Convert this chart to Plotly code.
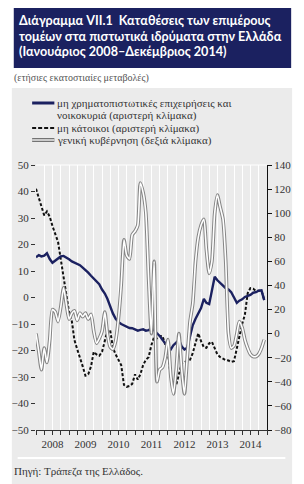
import pandas as pd
import plotly.graph_objects as go

months = pd.date_range("2008-01-01", periods=84, freq="MS")

# μη χρηματοπιστωτικές επιχειρήσεις και νοικοκυριά (left axis)
nfc_households = [15.2, 16.0, 15.5, 15.8, 16.7, 14.5, 13.1, 14.0, 14.8, 15.5, 15.7, 15.2,
                  14.4, 13.6, 13.1, 12.6, 12.2, 11.3, 10.5, 9.4, 8.2, 7.2, 6.2, 5.0,
                  3.0, 1.5, -0.5, -3.5, -6.0, -8.0, -9.2, -10.0, -10.6, -11.0, -11.5, -11.6,
                  -12.2, -12.5, -12.2, -12.0, -12.5, -12.3, -11.5, -12.3, -13.5, -14.5, -16.0, -17.5,
                  -18.6, -19.6, -18.0, -17.0, -16.0, -18.5, -19.6, -19.0, -14.0, -10.5, -8.0, -6.0,
                  -4.0, -0.5, -2.0, -2.5, 3.0, 7.8, 6.5, 5.4, 4.3, 3.5, 3.0, 2.0,
                  0.0, -2.0, -1.2, -0.7, 0.2, 0.5, 1.0, 1.8, 2.0, 2.6, 2.7, -1.0]

# μη κάτοικοι (left axis)
non_residents = [41.0, 37.5, 34.0, 31.0, 32.5, 30.5, 27.0, 23.8, 21.0, 14.5, 7.5, 1.5,
                 -5.5, -9.0, -16.0, -19.5, -22.5, -26.0, -29.5, -29.0, -26.0, -20.5, -21.5, -22.0,
                 -20.5, -16.0, -12.5, -12.3, -19.0, -21.5, -23.6, -25.5, -33.0, -33.7, -33.4, -32.6,
                 -29.0, -31.0, -29.0, -25.5, -23.5, -22.5, -18.0, -14.8, -15.4, -14.5, -14.5, -17.5,
                 -21.0, -30.0, -33.7, -33.0, -29.0, -24.8, -24.4, -24.0, -23.5, -21.0, -17.3, -13.5,
                 -16.5, -18.8, -19.0, -17.3, -16.7, -19.5, -21.5, -22.5, -23.2, -23.6, -23.8, -24.3,
                 -24.0, -19.0, -14.0, -10.0, -6.5, 1.6, 3.5, 3.3, 2.5, 2.5, 2.6, -0.8]

# γενική κυβέρνηση (right axis)
general_government = [0, -15, -30, -12, -24, -5, 20, 18, 10, 22, 38, 25,
                      12, 17, 19, 11, 17, 14, 17, 12, 16, 2, -8, -4,
                      2, 18, 0, -11, -13, -6, 12, 40, 78, 65, 62, 82,
                      85, 90, 125, 117, 100, 45, 0, 60, -40, -30, -28, -20,
                      -5, -35, -50, -30, 0, -30, -50, -20, 10, 25, 60, 80,
                      90, 95, 70, 50, 60, 100, 115, 105, 95, 60, 0, -12,
                      -10, 0, 10, 5, -5, -12, -17, -19, -19, -17, -12, -5]

year_labels = ["2008", "2009", "2010", "2011", "2012", "2013", "2014"]

W, H = 304, 484
ML, MR, MT, MB = 29, 36, 165, 54
PW, PH = W - ML - MR, H - MT - MB

def px(x):
    return (x - ML) / PW

def py(y):
    return (H - MB - y) / PH

NAVY = "#1b2160"
PANEL = "#ebebeb"
SERIF = "Liberation Serif, DejaVu Serif, serif"

fig = go.Figure()

fig.add_trace(go.Scatter(x=months, y=general_government, yaxis="y2", mode="lines",
                         line=dict(color="#858585", width=3.6, shape="spline", smoothing=0.6),
                         showlegend=False, hoverinfo="skip"))
fig.add_trace(go.Scatter(x=months, y=general_government, yaxis="y2", mode="lines",
                         line=dict(color="white", width=1.6, shape="spline", smoothing=0.6),
                         showlegend=False, hoverinfo="skip"))
fig.add_trace(go.Scatter(x=months, y=non_residents, mode="lines",
                         line=dict(color="#111111", width=2, dash="3px,2px"),
                         showlegend=False))
fig.add_trace(go.Scatter(x=months, y=nfc_households, mode="lines",
                         line=dict(color=NAVY, width=2.4),
                         showlegend=False))

shapes = [
    dict(type="rect", xref="paper", yref="paper", x0=px(4), x1=px(294), y0=py(88), y1=py(484),
         fillcolor=PANEL, line_width=0, layer="below"),
    dict(type="rect", xref="paper", yref="paper", x0=px(6), x1=px(293), y0=py(68), y1=py(8),
         fillcolor=NAVY, line_width=0, layer="below"),
    dict(type="line", xref="paper", yref="paper", x0=0, x1=1, y0=1, y1=1,
         line=dict(color="white", width=1)),
    dict(type="line", xref="paper", yref="paper", x0=px(10), x1=px(287), y0=py(458), y1=py(458),
         line=dict(color="white", width=2)),
    dict(type="line", xref="paper", yref="paper", x0=px(25), x1=px(48), y0=py(103), y1=py(103),
         line=dict(color=NAVY, width=3)),
    dict(type="line", xref="paper", yref="paper", x0=px(25), x1=px(48), y0=py(128), y1=py(128),
         line=dict(color="#111111", width=2, dash="4px,2px")),
    dict(type="line", xref="paper", yref="paper", x0=px(25), x1=px(48), y0=py(140), y1=py(140),
         line=dict(color="#555555", width=3.6)),
    dict(type="line", xref="paper", yref="paper", x0=px(25), x1=px(48), y0=py(140), y1=py(140),
         line=dict(color="white", width=1.4)),
]

def ann(text, x, y, size, color, family, xanchor="left"):
    return dict(text=text, xref="paper", yref="paper", x=px(x), y=py(y), xanchor=xanchor,
                yanchor="middle", showarrow=False, borderpad=0,
                font=dict(size=size, color=color, family=family))

title_font = "Lato, Open Sans, sans-serif"
annotations = [
    ann("<b>Διάγραμμα VII.1  Καταθέσεις των επιμέρους</b>", 10, 21, 12.6, "white", title_font),
    ann("<b>τομέων στα πιστωτικά ιδρύματα στην Ελλάδα</b>", 10, 36, 12.6, "white", title_font),
    ann("<b>(Ιανουάριος 2008–Δεκέμβριος 2014)</b>", 10, 51, 12.6, "white", title_font),
    ann("(ετήσιες εκατοστιαίες μεταβολές)", 5, 78, 10, "#555555", SERIF),
    ann("μη χρηματοπιστωτικές επιχειρήσεις και", 50, 103, 11, "#333333", SERIF),
    ann("νοικοκυριά (αριστερή κλίμακα)", 50, 115, 11, "#333333", SERIF),
    ann("μη κάτοικοι (αριστερή κλίμακα)", 50, 128, 11, "#333333", SERIF),
    ann("γενική κυβέρνηση (δεξιά κλίμακα)", 50, 140, 11, "#333333", SERIF),
    ann("Πηγή: Τράπεζα της Ελλάδος.", 5, 471, 11, "#333333", SERIF),
]

fig.update_layout(
    width=W, height=H,
    margin=dict(l=ML, r=MR, t=MT, b=MB, pad=0),
    paper_bgcolor="white",
    plot_bgcolor=PANEL,
    showlegend=False,
    shapes=shapes,
    annotations=annotations,
    xaxis=dict(
        type="date", range=["2008-01-01", "2015-01-01"],
        tick0="2008-01-01", dtick="M12", ticklabelmode="period", tickformat="%Y",
        showgrid=True, gridcolor="white", gridwidth=1,
        ticks="outside", ticklen=4, tickcolor="#333333",
        showline=True, linecolor="#333333", linewidth=1,
        tickfont=dict(family=SERIF, size=11, color="#333333"),
        minor=dict(dtick="M3", showgrid=True, gridcolor="white", gridwidth=1,
                   ticks="outside", ticklen=4, tickcolor="#333333"),
        zeroline=False, fixedrange=True,
    ),
    yaxis=dict(
        range=[-50, 50], dtick=10, showgrid=False, zeroline=False,
        ticks="outside", ticklen=4, tickcolor="#333333", showline=False,
        tickfont=dict(family=SERIF, size=11, color="#333333"),
    ),
    yaxis2=dict(
        range=[-80, 140], dtick=20, overlaying="y", side="right",
        showgrid=False, zeroline=False, showline=True, linecolor="#111111", linewidth=1,
        ticks="outside", ticklen=4, tickcolor="#111111",
        tickfont=dict(family=SERIF, size=11, color="#333333"),
    ),
)

fig.write_html("out.html")
